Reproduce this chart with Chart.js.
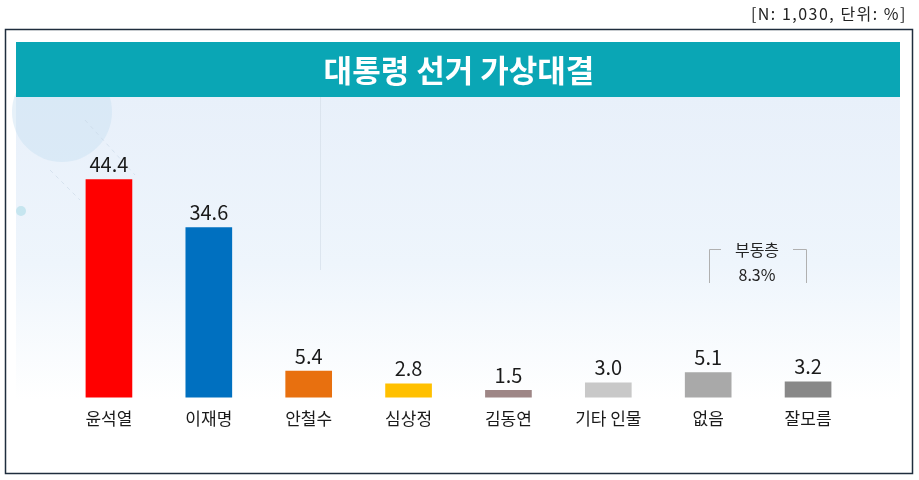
<!DOCTYPE html>
<html>
<head>
<meta charset="utf-8">
<script src="https://cdn.jsdelivr.net/npm/chart.js@4"></script>
<style>
  html, body { margin: 0; padding: 0; background: #fff; }
  #wrap { width: 919px; height: 480px; position: relative; }
</style>
</head>
<body>
<div id="wrap"><canvas id="poll-chart"></canvas></div>
<script>
const candidates = ['윤석열', '이재명', '안철수', '심상정', '김동연', '기타 인물', '없음', '잘모름'];
const support = [44.4, 34.6, 5.4, 2.8, 1.5, 3.0, 5.1, 3.2];
const barColors = ['#ff0000', '#0070c0', '#e8700f', '#ffc000', '#9e8686', '#c8c8c8', '#a9a9a9', '#888888'];
const undecided = '8.3%';

const FONT = '"Noto Sans CJK KR", "Noto Sans", sans-serif';

// frame, title bar, background and the undecided bracket
const backdrop = {
  id: 'backdrop',
  beforeDraw(chart) {
    const c = chart.ctx;
    c.save();
    c.fillStyle = '#fff';
    c.fillRect(0, 0, chart.width, chart.height);

    const g = c.createLinearGradient(0, 97, 0, 400);
    g.addColorStop(0, '#e8f0fa');
    g.addColorStop(0.55, '#eef5fc');
    g.addColorStop(1, '#ffffff');
    c.fillStyle = g;
    c.fillRect(16, 97, 884, 360);

    // faint decorations
    c.fillStyle = 'rgba(200,225,242,0.45)';
    c.beginPath();
    c.arc(62, 112, 50, 0, Math.PI * 2);
    c.fill();
    c.fillStyle = 'rgba(160,215,228,0.5)';
    c.beginPath();
    c.arc(21, 211, 5, 0, Math.PI * 2);
    c.fill();
    c.strokeStyle = 'rgba(200,215,230,0.6)';
    c.setLineDash([4, 4]);
    c.beginPath();
    c.moveTo(85, 120); c.lineTo(135, 175);
    c.moveTo(50, 170); c.lineTo(80, 200);
    c.stroke();
    c.setLineDash([]);
    c.strokeStyle = 'rgba(215,225,235,0.8)';
    c.beginPath();
    c.moveTo(320.5, 97); c.lineTo(320.5, 270);
    c.stroke();

    // title bar
    c.fillStyle = '#0aa6b5';
    c.fillRect(16, 42, 884, 55);
    c.fillStyle = '#fff';
    c.font = 'bold 31px ' + FONT;
    c.textAlign = 'center';
    c.textBaseline = 'middle';
    c.fillText('대통령 선거 가상대결', 459, 70);

    // outer frame
    c.strokeStyle = '#1f2d3d';
    c.lineWidth = 1.5;
    c.strokeRect(5.5, 29.5, 907, 444);

    // sample note
    c.fillStyle = '#222';
    c.font = '16px ' + FONT;
    c.letterSpacing = '1.5px';
    c.textAlign = 'right';
    c.fillText('[N: 1,030, 단위: %]', 907, 14);
    c.letterSpacing = '0px';

    // undecided bracket
    c.strokeStyle = '#b0b0b0';
    c.lineWidth = 1;
    c.beginPath();
    c.moveTo(721, 249.5); c.lineTo(709.5, 249.5); c.lineTo(709.5, 283);
    c.moveTo(793, 249.5); c.lineTo(806.5, 249.5); c.lineTo(806.5, 283);
    c.stroke();
    c.fillStyle = '#222';
    c.font = '16px ' + FONT;
    c.textAlign = 'center';
    c.fillText('부동층', 757, 250);
    c.fillText(undecided, 757, 275);
    c.restore();
  }
};

// value labels above each bar
const valueLabels = {
  id: 'valueLabels',
  afterDatasetsDraw(chart) {
    const c = chart.ctx;
    const meta = chart.getDatasetMeta(0);
    c.save();
    c.fillStyle = '#1a1a1a';
    c.font = '20px ' + FONT;
    c.textAlign = 'center';
    c.textBaseline = 'bottom';
    meta.data.forEach((bar, i) => {
      c.fillText(support[i].toFixed(1), bar.x, bar.y - 5);
    });
    c.restore();
  }
};

new Chart(document.getElementById('poll-chart'), {
  type: 'bar',
  data: {
    labels: candidates,
    datasets: [{
      data: support,
      backgroundColor: barColors,
      barThickness: 46,
    }]
  },
  options: {
    responsive: true,
    maintainAspectRatio: false,
    animation: false,
    layout: { padding: { left: 59, right: 61, top: 152, bottom: 48 } },
    plugins: {
      legend: { display: false },
      tooltip: { enabled: false }
    },
    scales: {
      x: {
        grid: { display: false },
        border: { display: false },
        ticks: { color: '#1a1a1a', font: { family: FONT, size: 17 }, padding: 3 }
      },
      y: {
        display: false,
        min: 0,
        max: 50
      }
    }
  },
  plugins: [backdrop, valueLabels]
});
</script>
</body>
</html>
